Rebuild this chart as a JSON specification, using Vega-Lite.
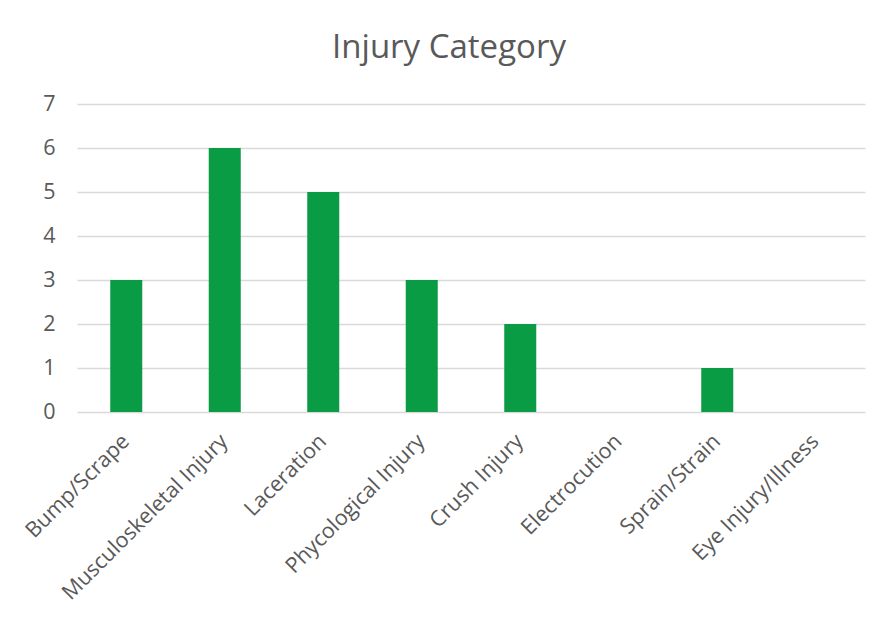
{
  "$schema": "https://vega.github.io/schema/vega-lite/v6.json",
  "autosize": "none",
  "width": 788,
  "height": 308,
  "padding": {"left": 77, "top": 104, "right": 31, "bottom": 206},
  "background": "white",
  "title": {
    "text": "Injury Category",
    "fontSize": 33,
    "fontWeight": "normal",
    "font": "Open Sans",
    "color": "#595959",
    "offset": 28,
    "dx": -22
  },
  "data": {
    "values": [
      {"category": "Bump/Scrape", "count": 3},
      {"category": "Musculoskeletal Injury", "count": 6},
      {"category": "Laceration", "count": 5},
      {"category": "Phycological Injury", "count": 3},
      {"category": "Crush Injury", "count": 2},
      {"category": "Electrocution", "count": 0},
      {"category": "Sprain/Strain", "count": 1},
      {"category": "Eye Injury/Illness", "count": 0}
    ]
  },
  "mark": {"type": "bar", "color": "#0a9c44"},
  "encoding": {
    "x": {
      "field": "category",
      "type": "nominal",
      "sort": null,
      "title": null,
      "scale": {"paddingInner": 0.675, "paddingOuter": 0.3375},
      "axis": {
        "labelAngle": -45,
        "labelAlign": "right",
        "labelBaseline": "middle",
        "labelFontSize": 21.5,
        "labelFont": "Open Sans",
        "labelColor": "#595959",
        "labelPadding": 26,
        "ticks": false,
        "domain": false,
        "labelLimit": 400
      }
    },
    "y": {
      "field": "count",
      "type": "quantitative",
      "title": null,
      "scale": {"domain": [0, 7], "nice": false},
      "axis": {
        "values": [0, 1, 2, 3, 4, 5, 6, 7],
        "labelFontSize": 21.5,
        "labelFont": "Open Sans",
        "labelColor": "#595959",
        "labelPadding": 22,
        "labelOverlap": false,
        "ticks": false,
        "domain": false,
        "gridColor": "#d9d9d9",
        "gridWidth": 1.5
      }
    }
  },
  "config": {"view": {"stroke": null}}
}
